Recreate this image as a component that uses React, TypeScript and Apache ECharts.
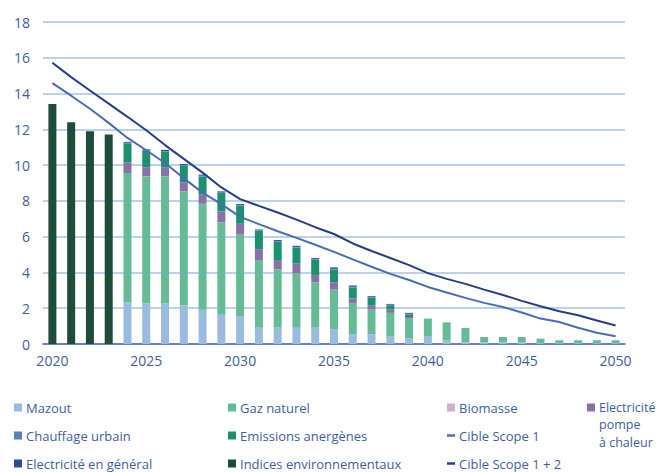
import React, { useEffect, useRef } from "react";
import * as echarts from "echarts";

const years = ["2020","2021","2022","2023","2024","2025","2026","2027","2028","2029","2030","2031","2032","2033","2034","2035","2036","2037","2038","2039","2040","2041","2042","2043","2044","2045","2046","2047","2048","2049","2050"];

const mazout = [0,0,0,0,2.33,2.26,2.26,2.15,1.92,1.64,1.53,0.91,0.91,0.91,0.91,0.82,0.54,0.54,0.41,0.30,0.41,0.21,0.09,0.09,0.09,0.09,0.05,0.05,0.05,0.05,0.05];
const gazNaturel = [0,0,0,0,7.23,7.11,7.11,6.38,5.92,5.17,4.58,3.78,3.27,3.05,2.54,2.22,1.72,1.38,1.33,1.12,1.01,1.00,0.81,0.30,0.30,0.30,0.25,0.16,0.16,0.16,0.16];
const biomasse = [0,0,0,0,0,0,0,0,0,0,0,0,0,0,0,0,0,0,0,0,0,0,0,0,0,0,0,0,0,0,0];
const elecPac = [0,0,0,0,0.60,0.51,0.51,0.51,0.51,0.60,0.61,0.61,0.51,0.54,0.41,0.41,0.28,0.25,0.18,0.09,0,0,0,0,0,0,0,0,0,0,0];
const anergenes = [0,0,0,0,1.06,0.91,0.87,0.93,1.02,1.03,1.01,1.03,1.02,0.90,0.84,0.71,0.62,0.41,0.25,0.15,0,0,0,0,0,0,0,0,0,0,0];
const chauffageUrbain = [0,0,0,0,0.03,0.03,0.04,0.03,0.04,0.03,0.03,0.03,0.04,0.03,0.04,0.04,0.04,0.03,0.03,0.03,0,0,0,0,0,0,0,0,0,0,0];
const elecGeneral = [0,0,0,0,0.05,0.06,0.06,0.06,0.06,0.06,0.06,0.04,0.06,0.06,0.06,0.08,0.07,0.06,0.04,0.05,0,0,0,0,0,0,0,0,0,0,0];
const indicesEnv = [13.42,12.40,11.89,11.71,0,0,0,0,0,0,0,0,0,0,0,0,0,0,0,0,0,0,0,0,0,0,0,0,0,0,0];

const cibleScope1 = [14.58,13.88,13.15,12.36,11.52,10.83,10.12,9.26,8.46,7.82,7.11,6.70,6.30,5.93,5.55,5.15,4.73,4.32,3.92,3.58,3.19,2.88,2.58,2.30,2.07,1.76,1.42,1.23,0.91,0.63,0.43];
const cibleScope12 = [15.72,14.92,14.17,13.44,12.70,11.95,11.12,10.35,9.58,8.75,8.10,7.72,7.35,6.95,6.53,6.15,5.62,5.20,4.81,4.41,3.96,3.64,3.36,3.04,2.74,2.41,2.11,1.83,1.61,1.31,1.03];

const yTicks = { min: 0, max: 18, interval: 2 };

const TEXT = "#435d9c";
const FONT = "Open Sans";

export default function App() {
  const ref = useRef<HTMLDivElement>(null);
  useEffect(() => {
    if (!ref.current) return;
    const chart = echarts.init(ref.current, undefined, { renderer: "svg" });

    const barDefs = [
      { name: "Mazout", data: mazout, color: "#99bbe0" },
      { name: "Gaz naturel", data: gazNaturel, color: "#66bb97" },
      { name: "Biomasse", data: biomasse, color: "#c9afd2" },
      { name: "Electricité pompe à chaleur", data: elecPac, color: "#8a70a8" },
      { name: "Emissions anergènes", data: anergenes, color: "#1b9170" },
      { name: "Chauffage urbain", data: chauffageUrbain, color: "#5b7fbb" },
      { name: "Electricité en général", data: elecGeneral, color: "#2d4a95" },
      { name: "Indices environnementaux", data: indicesEnv, color: "#1f4d3b" },
    ];

    const bars = barDefs.map((d) => ({
      name: d.name,
      type: "bar",
      stack: "total",
      data: d.data,
      barWidth: 8,
      itemStyle: { color: d.color },
    }));

    const lines = [
      { name: "Cible Scope 1", data: cibleScope1, color: "#4a6cb4" },
      { name: "Cible Scope 1 + 2", data: cibleScope12, color: "#263e86" },
    ].map((d) => ({
      name: d.name,
      type: "line",
      data: d.data,
      symbol: "none",
      lineStyle: { color: d.color, width: 2 },
      itemStyle: { color: d.color },
      z: 5,
    }));

    const legendItem = (name: string, left: number, top: number, dash = false, formatter?: string, fontSize = 13) => ({
      data: [name],
      left,
      top,
      padding: 0,
      icon: "rect",
      itemWidth: 8,
      itemHeight: dash ? 2.5 : 8,
      itemGap: 0,
      formatter: formatter ?? "{name}",
      selectedMode: false,
      textStyle: { color: TEXT, fontFamily: FONT, fontSize, padding: [0, 0, 0, -1] },
    });

    chart.setOption({
      animation: false,
      grid: { left: 43, right: 32, top: 22, bottom: 128, containLabel: false },
      xAxis: {
        type: "category",
        data: years,
        axisTick: { show: false },
        axisLine: { lineStyle: { color: "#4f68a8", width: 1.5 } },
        axisLabel: { interval: 4, color: TEXT, fontFamily: FONT, fontSize: 14, margin: 9 },
      },
      yAxis: {
        type: "value",
        min: yTicks.min,
        max: yTicks.max,
        interval: yTicks.interval,
        axisLine: { show: false },
        axisTick: { show: false },
        axisLabel: { color: TEXT, fontFamily: FONT, fontSize: 14, margin: 13 },
        splitLine: { lineStyle: { color: "#a6c3e6", width: 1.5 } },
      },
      legend: [
        legendItem("Mazout", 14, 401),
        legendItem("Chauffage urbain", 14, 429),
        legendItem("Electricité en général", 14, 457),
        legendItem("Gaz naturel", 228, 401),
        legendItem("Emissions anergènes", 228, 429),
        legendItem("Indices environnementaux", 228, 457),
        legendItem("Biomasse", 447, 401),
        legendItem("Cible Scope 1", 447, 429, true),
        legendItem("Cible Scope 1 + 2", 447, 457, true),
        legendItem("Electricité pompe à chaleur", 587, 401, false, "Electricité", 12.5),
      ],
      graphic: [
        {
          type: "text",
          left: 599,
          top: 415,
          style: { text: "pompe\nà chaleur", fill: TEXT, font: `12.5px '${FONT}'`, lineHeight: 18 },
        },
      ],
      series: [...bars, ...lines],
    });

    return () => chart.dispose();
  }, []);

  return <div ref={ref} style={{ width: 657, height: 472, position: "absolute", left: 0, top: 0 }} />;
}
